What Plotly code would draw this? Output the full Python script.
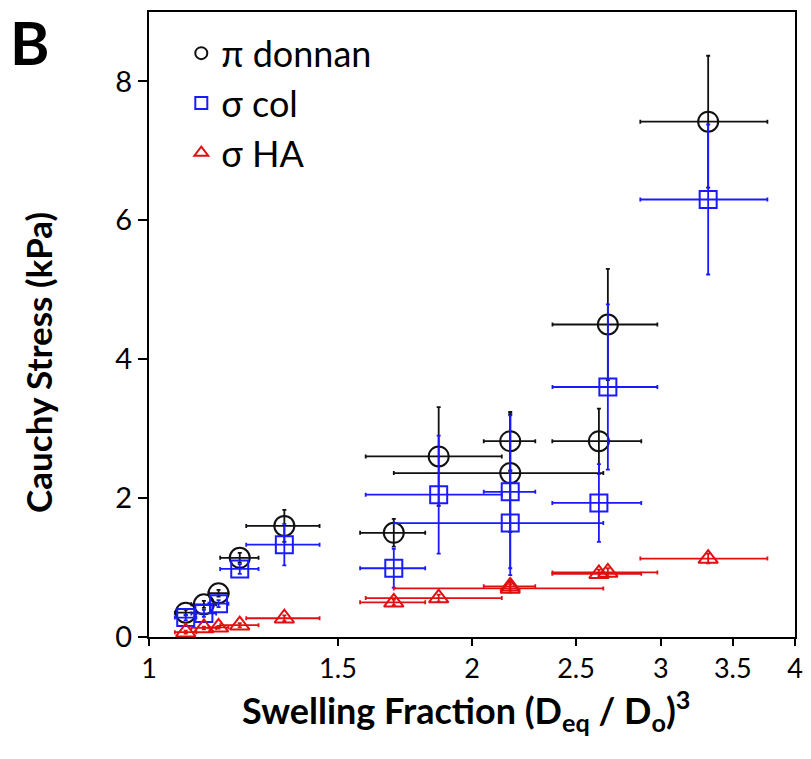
import plotly.graph_objects as go

# pi donnan (black circles)
pd_x = [1.082, 1.125, 1.161, 1.215, 1.337, 1.691, 1.862, 2.171, 2.171, 2.626, 2.677, 3.32]
pd_y = [0.35, 0.47, 0.63, 1.14, 1.60, 1.50, 2.60, 2.82, 2.36, 2.82, 4.50, 7.42]
pd_ex = [0.025, 0.03, 0.025, 0.05, 0.105, 0.118, 0.27, 0.12, 0.48, 0.25, 0.30, 0.45]
pd_ey = [0.04, 0.05, 0.05, 0.07, 0.23, 0.20, 0.71, 0.42, 0.85, 0.47, 0.80, 0.95]

# sigma col (blue squares)
col_x = [1.082, 1.125, 1.161, 1.215, 1.337, 1.691, 1.862, 2.171, 2.171, 2.626, 2.677, 3.32]
col_y = [0.28, 0.34, 0.48, 0.98, 1.33, 0.99, 2.05, 2.09, 1.64, 1.93, 3.60, 6.30]
col_ex = [0.025, 0.03, 0.025, 0.05, 0.105, 0.118, 0.27, 0.12, 0.48, 0.25, 0.30, 0.45]
col_ey = [0.04, 0.05, 0.05, 0.07, 0.30, 0.28, 0.85, 1.10, 0.75, 0.56, 1.19, 1.08]

# sigma HA (red triangles)
ha_x = [1.082, 1.125, 1.161, 1.215, 1.337, 1.691, 1.862, 2.171, 2.171, 2.626, 2.677, 3.32]
ha_y = [0.07, 0.13, 0.14, 0.17, 0.27, 0.50, 0.56, 0.73, 0.70, 0.91, 0.93, 1.13]
ha_ex = [0.025, 0.03, 0.025, 0.05, 0.105, 0.118, 0.27, 0.12, 0.48, 0.25, 0.30, 0.45]
ha_ey = [0.02, 0.02, 0.02, 0.03, 0.04, 0.04, 0.05, 0.06, 0.06, 0.06, 0.06, 0.07]

x_ticks = [1, 1.5, 2, 2.5, 3, 3.5, 4]
x_tick_text = ["1", "1.5", "2", "2.5", "3", "3.5", "4"]
y_ticks = [0, 2, 4, 6, 8]

FONT = "Lato, 'Open Sans', sans-serif"

def trace(x, y, ex, ey, name, color, symbol, size):
    return go.Scatter(
        x=x, y=y, mode="markers", name=name,
        marker=dict(symbol=symbol, size=size, color=color,
                    line=dict(color=color, width=2)),
        error_x=dict(type="data", array=ex, color=color, thickness=1.8, width=2),
        error_y=dict(type="data", array=ey, color=color, thickness=1.8, width=2),
    )

fig = go.Figure()
fig.add_trace(trace(pd_x, pd_y, pd_ex, pd_ey, "π donnan", "#111111", "circle-open", 20))
fig.add_trace(trace(col_x, col_y, col_ex, col_ey, "σ col", "#1a1aff", "square-open", 17))
fig.add_trace(trace(ha_x, ha_y, ha_ex, ha_ey, "σ HA", "#e01010", "triangle-up-open", 17))

fig.update_layout(
    width=811, height=759,
    margin=dict(l=149, r=8, t=12, b=122),
    paper_bgcolor="white", plot_bgcolor="white",
    font=dict(family=FONT, color="black"),
    showlegend=True,
    legend=dict(x=0.05, y=0.982, xanchor="left", yanchor="top",
                font=dict(size=36, family=FONT, color="black"),
                bgcolor="rgba(0,0,0,0)", itemsizing="constant",
                tracegroupgap=0),
    xaxis=dict(
        type="log", range=[0, 0.60206],
        tickmode="array", tickvals=x_ticks, ticktext=x_tick_text,
        ticks="outside", ticklen=7, tickwidth=1.5, tickcolor="black",
        showline=True, linecolor="black", linewidth=2, mirror=True,
        showgrid=False, zeroline=False,
        tickfont=dict(size=27, family=FONT),
    ),
    yaxis=dict(
        range=[0, 9], tickvals=y_ticks,
        ticks="outside", ticklen=9, tickwidth=1.5, tickcolor="black",
        showline=True, linecolor="black", linewidth=2, mirror=True,
        showgrid=False, zeroline=False,
        tickfont=dict(size=29, family=FONT),
    ),
)

# axis titles as annotations for exact placement
fig.add_annotation(text="<b>Swelling Fraction (D<sub>eq</sub> / D<sub>o</sub>)<sup>3</sup></b>",
                   xref="paper", yref="paper", x=0.49, y=-0.118,
                   xanchor="center", yanchor="middle", showarrow=False,
                   font=dict(size=36, family=FONT, color="black"))
fig.add_annotation(text="<b>Cauchy Stress (kPa)</b>",
                   xref="paper", yref="paper", x=-0.172, y=0.44,
                   xanchor="center", yanchor="middle", textangle=-90, showarrow=False,
                   font=dict(size=35, family=FONT, color="black"))

fig.add_annotation(text="<b>B</b>", xref="paper", yref="paper",
                   x=-0.218, y=1.012, xanchor="left", yanchor="top",
                   showarrow=False, font=dict(size=60, family=FONT, color="black"))

fig.write_html("out.html", config={"displayModeBar": False},
               post_script="document.body.style.margin='0px';")
